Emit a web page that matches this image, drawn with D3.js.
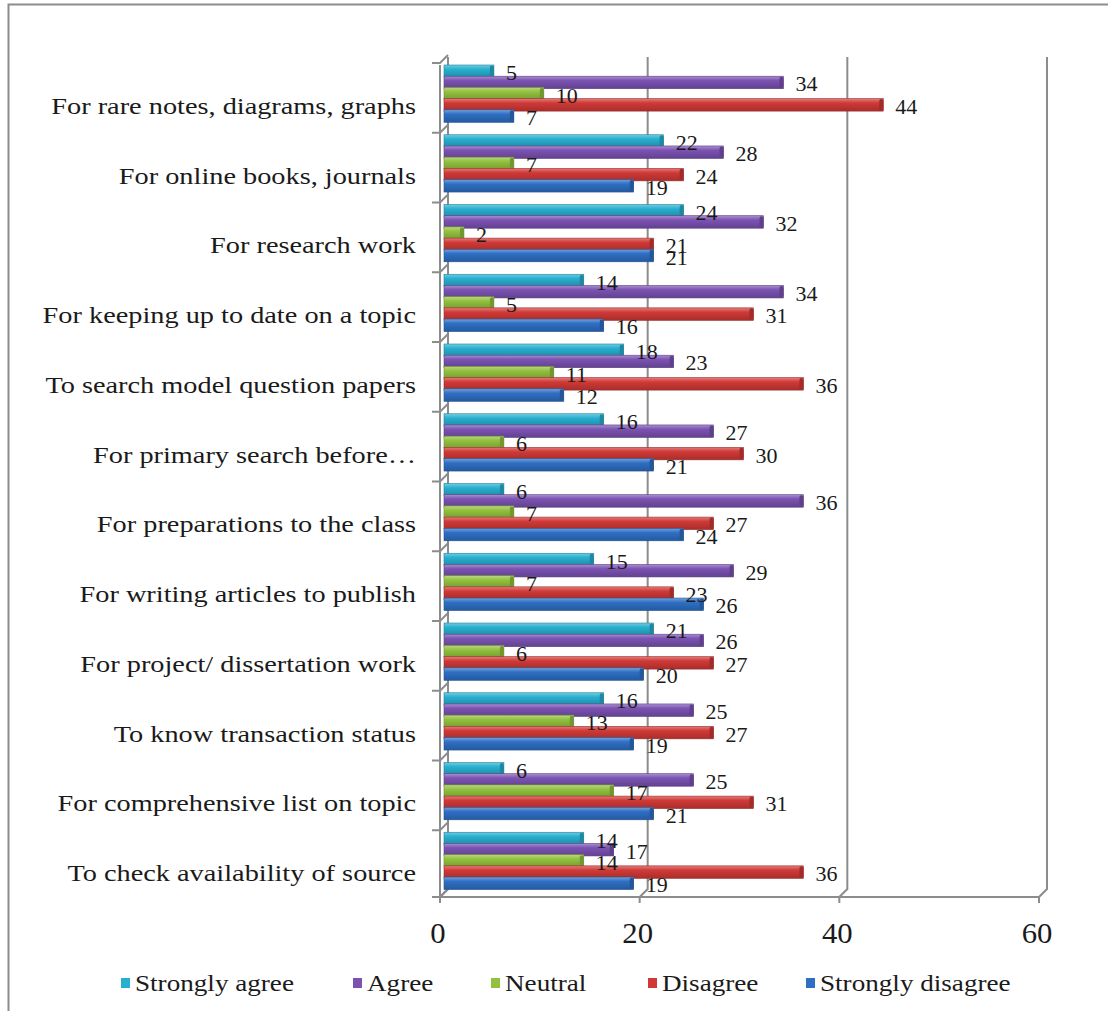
<!DOCTYPE html>
<html>
<head>
<meta charset="utf-8">
<script src="https://cdn.jsdelivr.net/npm/d3@7"></script>
<style>
  body { margin: 0; background: #fff; }
  svg { display: block; font-family: "Liberation Serif", "Times New Roman", serif; }
</style>
</head>
<body>
<svg id="chart" width="1108" height="1011"></svg>
<script>
// Data, categories from top to bottom
var categories = [
  "For rare notes, diagrams, graphs",
  "For online books, journals",
  "For research work",
  "For keeping up to date on a topic",
  "To search model question papers",
  "For primary search before\u2026",
  "For preparations to the class",
  "For writing articles to publish",
  "For project/ dissertation work",
  "To know transaction status",
  "For comprehensive list on topic",
  "To check availability of source"
];
var seriesNames = ["Strongly agree", "Agree", "Neutral", "Disagree", "Strongly disagree"];
var stronglyAgree    = [5, 22, 24, 14, 18, 16, 6, 15, 21, 16, 6, 14];
var agree            = [34, 28, 32, 34, 23, 27, 36, 29, 26, 25, 25, 17];
var neutral          = [10, 7, 2, 5, 11, 6, 7, 7, 6, 13, 17, 14];
var disagree         = [44, 24, 21, 31, 36, 30, 27, 23, 27, 27, 31, 36];
var stronglyDisagree = [7, 19, 21, 16, 12, 21, 24, 26, 20, 19, 21, 19];
var xTicks = [0, 20, 40, 60];

var colors = ["#27afcf", "#7b52b2", "#92c13e", "#d03936", "#2e6fc4"];
var allSeries = [stronglyAgree, agree, neutral, disagree, stronglyDisagree];

var svg = d3.select("#chart");
var depth = 8;      // 3D depth offset of the back wall
var barStep = 11.2; // vertical step between bars of one group
var barH = 12.5;
var stretch = 1.18; // the source picture is wider than its fonts

// outer frame (left and top only visible)
svg.append("path")
  .attr("d", "M8.5,1011 V4.5 H1108")
  .attr("fill", "none")
  .attr("stroke", "#8c8c8c")
  .attr("stroke-width", 2);

// Scales
var x = d3.scaleLinear().domain([0, 60]).range([440, 1039]);
var y = d3.scaleBand().domain(categories).range([63, 900]).padding(0);

// gradients for the shaded bars
var defs = svg.append("defs");
colors.forEach(function (c, i) {
  var g = defs.append("linearGradient")
    .attr("id", "grad" + i)
    .attr("x1", 0).attr("y1", 0).attr("x2", 0).attr("y2", 1);
  g.append("stop").attr("offset", "0%").attr("stop-color", d3.interpolateRgb(c, "#fff")(0.35));
  g.append("stop").attr("offset", "35%").attr("stop-color", c);
  g.append("stop").attr("offset", "100%").attr("stop-color", d3.color(c).darker(0.6));
});

var floorY = y.range()[1] - 3;
var topY = y.range()[0] - 6;

// back wall gridlines with their link to the front axis
var grid = svg.append("g").attr("stroke", "#8c8c8c").attr("stroke-width", 2).attr("fill", "none");
xTicks.forEach(function (t) {
  grid.append("path")
    .attr("d", "M" + x(t) + "," + (floorY + 6) + " V" + floorY +
      " L" + (x(t) + depth) + "," + (floorY - depth) + " V" + topY);
});
// front axis line
grid.append("path")
  .attr("d", "M" + x(0) + "," + floorY + " H" + x(60));

// left wall with category ticks
var ticksY = categories.map(function (c) { return y(c); }).concat([y.range()[1] - 3]);
grid.append("path")
  .attr("d", "M" + x(0) + "," + (ticksY[0] + 2) + " V" + floorY);
ticksY.forEach(function (ty) {
  grid.append("path")
    .attr("d", "M" + (x(0) - 8) + "," + ty + " H" + x(0) + " L" + (x(0) + depth) + "," + (ty - depth));
});

// Bars
var bars = svg.append("g");
categories.forEach(function (cat, ci) {
  allSeries.forEach(function (vals, si) {
    var by = y(cat) + 2 + si * barStep;
    var x0 = x(0) + 4, x1 = x(vals[ci]) + 4;
    bars.append("rect")
      .attr("x", x0).attr("y", by)
      .attr("width", Math.max(0, x1 - x0)).attr("height", barH)
      .attr("fill", "url(#grad" + si + ")")
      .attr("stroke", d3.color(colors[si]).darker(0.8))
      .attr("stroke-width", 0.6);
    // rounded 3D end cap
    bars.append("rect")
      .attr("x", x1 - 4).attr("y", by + 0.5)
      .attr("width", 4).attr("height", barH - 1)
      .attr("rx", 2)
      .attr("fill", d3.color(colors[si]).darker(0.7));
  });
});

// Value labels
var labels = svg.append("g").attr("font-size", 22).attr("fill", "#1a1a1a");
categories.forEach(function (cat, ci) {
  allSeries.forEach(function (vals, si) {
    var by = y(cat) + 2 + si * barStep;
    labels.append("text")
      .attr("x", x(vals[ci]) + 16)
      .attr("y", by + barH / 2 + 9)
      .text(vals[ci]);
  });
});

// Category labels
svg.append("g")
  .attr("font-size", 24)
  .attr("fill", "#1a1a1a")
  .attr("text-anchor", "end")
  .selectAll("text")
  .data(categories)
  .enter()
  .append("text")
  .attr("transform", function (c) {
    return "translate(416," + (y(c) + y.bandwidth() / 2 + 16) + ") scale(" + stretch + ",1)";
  })
  .text(function (c) { return c; });

// X tick labels
svg.append("g")
  .attr("font-size", 29)
  .attr("fill", "#1a1a1a")
  .attr("text-anchor", "middle")
  .selectAll("text")
  .data(xTicks)
  .enter()
  .append("text")
  .attr("transform", function (t) { return "translate(" + (x(t) - 2) + ",943) scale(1.06,1)"; })
  .text(function (t) { return t; });

// Legend
var legendX = [121, 353, 491, 648, 806];
var legend = svg.append("g").attr("font-size", 23).attr("fill", "#1a1a1a");
seriesNames.forEach(function (name, i) {
  legend.append("rect")
    .attr("x", legendX[i]).attr("y", 978)
    .attr("width", 9).attr("height", 10)
    .attr("fill", colors[i]);
  legend.append("text")
    .attr("transform", "translate(" + (legendX[i] + 14) + ",991) scale(" + stretch + ",1)")
    .text(name);
});
</script>
</body>
</html>
